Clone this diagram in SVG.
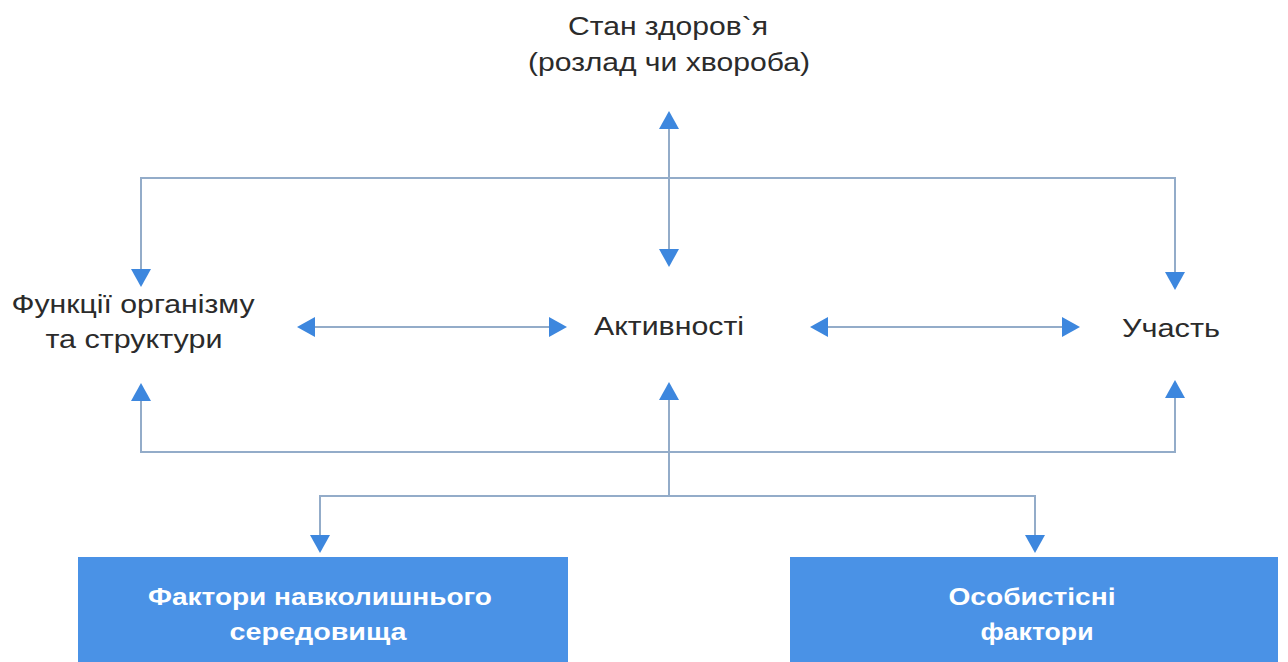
<svg xmlns="http://www.w3.org/2000/svg" width="1288" height="662" viewBox="0 0 1288 662">
  <style>
    .lbl { font-family: "Liberation Sans", Arial, sans-serif; font-size: 25px; fill: #2b2b2b; text-anchor: middle; }
    .box { fill: #4a92e6; }
    .boxlbl { font-family: "Liberation Sans", Arial, sans-serif; font-size: 24px; font-weight: bold; fill: #ffffff; text-anchor: middle; }
    .conn { fill: none; stroke: #93acc9; stroke-width: 2; marker-start: url(#ah); marker-end: url(#ah); }
    .conn1 { fill: none; stroke: #93acc9; stroke-width: 2; marker-end: url(#ah); }
  </style>
  <defs>
    <marker id="ah" markerUnits="userSpaceOnUse" markerWidth="18" markerHeight="20" refX="12" refY="10" orient="auto-start-reverse">
      <path d="M0,0 L18,10 L0,20 Z" fill="#3d87de"/>
    </marker>
  </defs>
  <rect width="1288" height="662" fill="#ffffff"/>

  <g id="connectors">
    <path class="conn" d="M141,281 V178 H1175 V284"/>
    <path class="conn" d="M669,117 V261"/>
    <path class="conn" d="M303,327 H561"/>
    <path class="conn" d="M816,327 H1074"/>
    <path class="conn" d="M141,389 V452 H1175 V386"/>
    <path class="conn1" d="M669,496 V388"/>
    <path class="conn" d="M320,547 V496 H1035 V547"/>
  </g>

  <g id="node-health">
    <text class="lbl" x="668" y="35" textLength="200" lengthAdjust="spacingAndGlyphs">Стан здоров`я</text>
    <text class="lbl" x="669" y="71" textLength="282" lengthAdjust="spacingAndGlyphs">(розлад чи хвороба)</text>
  </g>

  <g id="node-functions">
    <text class="lbl" x="133" y="313" textLength="243" lengthAdjust="spacingAndGlyphs">Функції організму</text>
    <text class="lbl" x="134" y="348" textLength="177" lengthAdjust="spacingAndGlyphs">та структури</text>
  </g>

  <g id="node-activities">
    <text class="lbl" x="669" y="335" textLength="150" lengthAdjust="spacingAndGlyphs">Активності</text>
  </g>

  <g id="node-participation">
    <text class="lbl" x="1171" y="337" textLength="98" lengthAdjust="spacingAndGlyphs">Участь</text>
  </g>

  <g id="node-environment">
    <rect class="box" x="78" y="557" width="490" height="105"/>
    <text class="boxlbl" x="320" y="605" textLength="344" lengthAdjust="spacingAndGlyphs">Фактори навколишнього</text>
    <text class="boxlbl" x="318" y="640" textLength="177" lengthAdjust="spacingAndGlyphs">середовища</text>
  </g>

  <g id="node-personal">
    <rect class="box" x="790" y="557" width="488" height="105"/>
    <text class="boxlbl" x="1032" y="605" textLength="167" lengthAdjust="spacingAndGlyphs">Особистісні</text>
    <text class="boxlbl" x="1037" y="640" textLength="113" lengthAdjust="spacingAndGlyphs">фактори</text>
  </g>
</svg>
